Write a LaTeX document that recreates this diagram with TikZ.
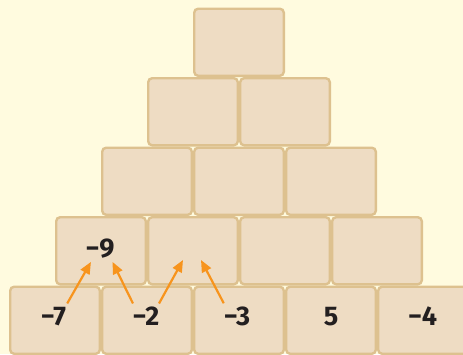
\documentclass[tikz,border=0pt]{standalone}
\usepackage{fontspec}
\setmainfont{Fira Sans}
\usetikzlibrary{arrows.meta}
\definecolor{paper}{HTML}{FFFBDF}
\definecolor{brickfill}{HTML}{EEDCC3}
\definecolor{brickline}{HTML}{DDC18F}
\definecolor{arroworange}{HTML}{F7941D}
\definecolor{ink}{HTML}{231F20}
\tikzset{
  >={Triangle[length=12pt,width=10pt]},
  brick/.style={draw=brickline, fill=brickfill, line width=2.4pt, rounded corners=4pt,
                minimum width=89.6pt, minimum height=67.1pt, inner sep=0pt},
  num/.style={font=\fontsize{27}{30}\selectfont\bfseries, text=ink, inner xsep=1pt, inner ysep=3.5pt},
  up/.style={->, arroworange, line width=2.2pt}
}

\begin{document}
\begin{tikzpicture}[x=1pt, y=-1pt]
\useasboundingbox (0,0) rectangle (463,354);
\clip (0,0) rectangle (463,354);
\fill[paper] (0,0) rectangle (463,354);
% top of the wall
\node[brick] (a1) at (239,42.25) {};
\node[brick] (b1) at (193,111.75) {};
\node[brick] (b2) at (285,111.75) {};
\node[brick] (c1) at (147,181.25) {};
\node[brick] (c2) at (239,181.25) {};
\node[brick] (c3) at (331,181.25) {};
\node[brick] (d1) at (101,250.75) {};
\node[brick] (d2) at (193,250.75) {};
\node[brick] (d3) at (285,250.75) {};
\node[brick] (d4) at (377,250.75) {};
% bottom row
\node[brick] (e1) at (55,320.25) {};
\node[brick] (e2) at (147,320.25) {};
\node[brick] (e3) at (239,320.25) {};
\node[brick] (e4) at (331,320.25) {};
\node[brick] (e5) at (423,320.25) {};
% numbers
\node[num] (n9) at (100,248.5) {−9};
\node[num] (n7) at (53.5,316.5) {−7};
\node[num] (n2) at (146,316.5) {−2};
\node[num] (n3) at (237,316.5) {−3};
\node[num] (n5) at (331,317) {5};
\node[num] (n4) at (422.5,316.5) {−4};
\coordinate (g1) at (183,260);
\coordinate (g2) at (201,260);
\draw[up] (n7.north east) -- (n9.236);
\draw[up] (n2.135) -- (n9.313);
\draw[up] (n2.45) -- (g1);
\draw[up] (n3.135) -- (g2);
\end{tikzpicture}
\end{document}
